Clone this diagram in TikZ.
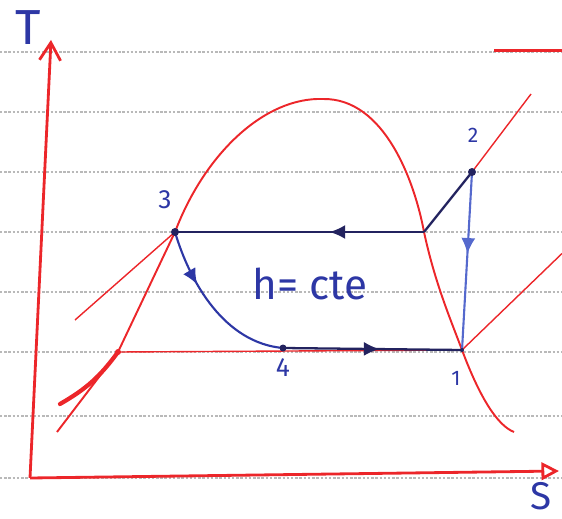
\documentclass[tikz,border=0pt]{standalone}
\usepackage{fontspec}
\setmainfont{Fira Sans}
\usetikzlibrary{arrows.meta,decorations.markings}

\definecolor{penred}{RGB}{236,38,42}
\definecolor{penblue}{RGB}{45,55,165}
\definecolor{penink}{RGB}{35,35,95}
\definecolor{penlight}{RGB}{85,105,205}

\tikzset{
	paperline/.style={gray!55, densely dotted, line width=1.4pt},
	axisline/.style={penred, line width=1.6pt},
	dome/.style={penred, line width=1.1pt},
	isobar/.style={penred, line width=0.8pt},
	cycleline/.style={penink, line width=1.3pt},
	flowline/.style={penlight, line width=1.2pt},
	numlabel/.style={text=penblue, font=\fontsize{15}{17}\selectfont},
	midarrow/.style={postaction={decorate}, decoration={markings,
		mark=at position #1 with {\arrow{Latex[length=9pt,width=8pt]}}}},
}

\begin{document}
\begin{tikzpicture}
	\useasboundingbox (-0.6,-0.8) rectangle (10.64,9.56);
	
	% ruled paper
	\foreach \y in {0,1.24,2.52,3.72,4.92,6.12,7.32,8.52}
		\draw[paperline] (-0.6,\y) -- (10.64,\y);
	
	% points
	\coordinate (O) at (0,0);
	\coordinate (Ttip) at (0.42,8.76);
	\coordinate (Stip) at (10.58,0.14);
	\coordinate (p1) at (8.64,2.56);
	\coordinate (p2) at (8.84,6.12);
	\coordinate (p3) at (2.9,4.92);
	\coordinate (p4) at (5.06,2.6);
	\coordinate (g) at (7.88,4.92);
	\coordinate (f) at (1.76,2.52);
	\coordinate (hl) at (0.9,3.16);
	\coordinate (hv) at (10.02,7.68);
	\coordinate (lv) at (10.64,4.49);
	\coordinate (ll) at (0.6,1.48);
	
	% axes
	\draw[axisline,-{Straight Barb[length=10pt,width=12pt]}] (O) -- (Ttip);
	\draw[axisline,-{Triangle[open,length=10pt,width=10pt]}] (O) -- (Stip);
	\node[text=penblue, font=\fontsize{28}{30}\selectfont] (Tlab) at (-0.04,9.0) {T};
	\node[text=penblue, inner sep=1pt, font=\fontsize{22}{24}\selectfont] (Slab) at (10.22,-0.36) {S};
	
	% saturation dome
	\draw[dome] (0.54,0.92) -- (f) -- (p3)
		.. controls (3.5,6.5) and (4.7,7.62) .. (5.86,7.58)
		.. controls (7.1,7.6) and (7.7,5.9) .. (g)
		.. controls (8.1,3.9) and (8.4,3.2) .. (p1)
		.. controls (9.0,1.6) and (9.35,1.05) .. (9.68,0.92);
	
	% isobars
	\draw[isobar] (p3) -- (hl);
	\draw[isobar] (p3) -- (g);
	\draw[isobar] (p2) -- (hv);
	\draw[isobar] (f) -- (p1);
	\draw[isobar] (p1) -- (lv);
	\draw[penred, line width=2.4pt, line cap=round] (f) to[bend left=12] (ll);
	\draw[isobar, line width=1.4pt] (9.28,8.55) -- (10.64,8.55);
	
	% cycle
	\draw[cycleline, midarrow=0.38] (g) -- (p3);
	\draw[cycleline] (g) -- (p2);
	\draw[flowline, midarrow=0.46] (p2) -- (p1);
	\draw[cycleline, midarrow=0.54] (p4) -- (p1);
	\draw[flowline, penblue, midarrow=0.34] (p3) .. controls (3.2,3.9) and (3.9,2.7) .. (p4);
	
	% state dots
	\fill[penink] (p3) circle (0.08);
	\fill[penink] (p2) circle (0.08);
	\fill[penink] (p4) circle (0.07);
	\fill[penink] (p1) circle (0.04);
	\fill[penred] (f) circle (0.06);
	
	% labels
	\node[numlabel] (n3) at (2.7,5.56) {3};
	\node[numlabel, font=\fontsize{12}{14}\selectfont] (n2) at (8.86,6.86) {2};
	\node[numlabel] (n4) at (5.06,2.2) {4};
	\node[numlabel, font=\fontsize{12}{14}\selectfont] (n1) at (8.52,2.0) {1};
	\node[text=penblue, font=\fontsize{24}{26}\selectfont] (hcte) at (5.6,3.88) {h= cte};
	
\end{tikzpicture}
\end{document}
